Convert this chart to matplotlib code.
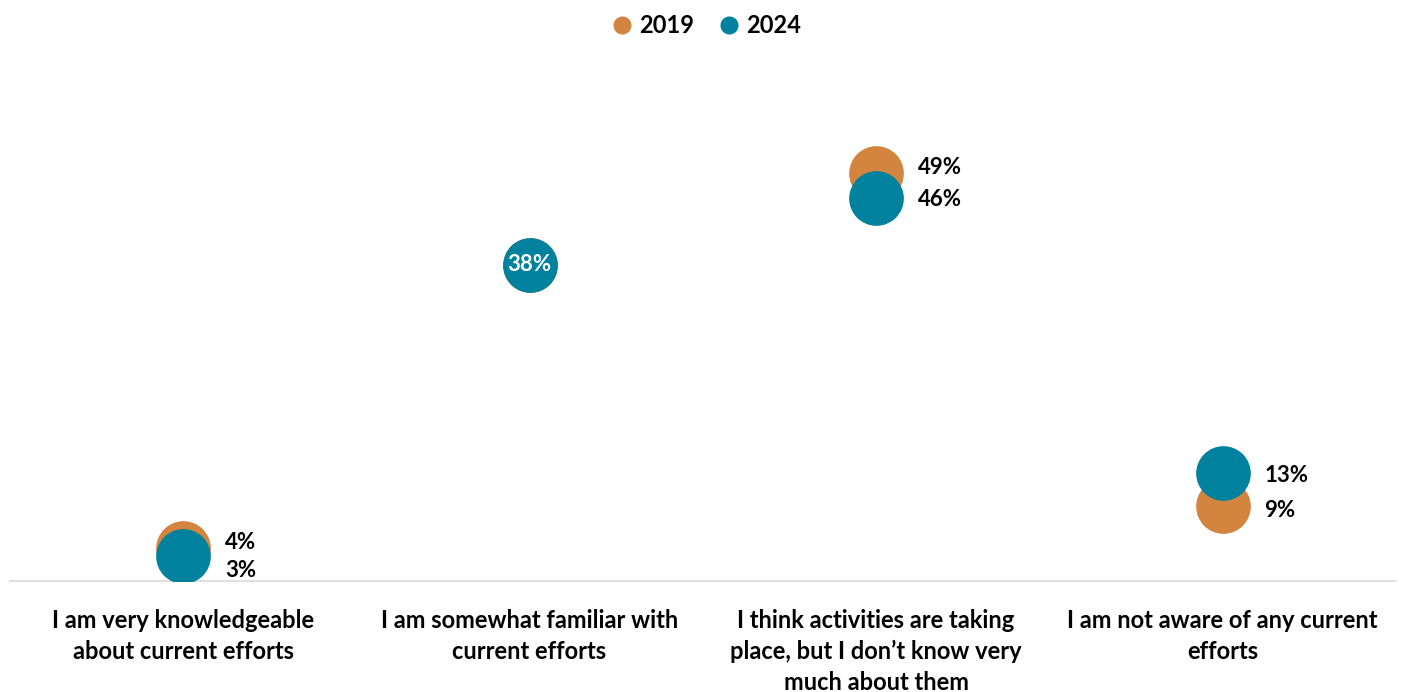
import matplotlib
matplotlib.use("Agg")
import matplotlib.pyplot as plt

categories = [
    "I am very knowledgeable\nabout current efforts",
    "I am somewhat familiar with\ncurrent efforts",
    "I think activities are taking\nplace, but I don\u2019t know very\nmuch about them",
    "I am not aware of any current\nefforts",
]
years = ["2019", "2024"]
pct_2019 = [4, 38, 49, 9]
pct_2024 = [3, 38, 46, 13]

orange = "#D3843F"
teal = "#00819D"

plt.rcParams["font.family"] = ["Lato", "DejaVu Sans"]

fig = plt.figure(figsize=(14.07, 6.92), dpi=100)
ax = fig.add_axes([0.007, 0.16, 0.985, 0.722])

x = list(range(len(categories)))
ax.scatter(x, pct_2019, s=1550, color=orange, zorder=2, label=years[0], linewidths=0)
ax.scatter(x, pct_2024, s=1550, color=teal, zorder=3, label=years[1], linewidths=0)

# value labels to the right of the dots; nudge the close pairs apart
nudge_2019 = [4, 0, 4, -3]
nudge_2024 = [-10, 0, -1, -2]
for i in x:
    if pct_2019[i] == pct_2024[i]:
        ax.text(i, pct_2024[i], f"{pct_2024[i]}%", color="white", fontsize=16,
                fontweight="bold", ha="center", va="center", zorder=4)
        continue
    ax.annotate(f"{pct_2019[i]}%", (i, pct_2019[i]), xytext=(30, nudge_2019[i]),
                textcoords="offset points", fontsize=16, fontweight="bold",
                ha="left", va="center", color="black")
    ax.annotate(f"{pct_2024[i]}%", (i, pct_2024[i]), xytext=(30, nudge_2024[i]),
                textcoords="offset points", fontsize=16, fontweight="bold",
                ha="left", va="center", color="black")

ax.set_xlim(-0.5, 3.5)
ax.set_ylim(0, 60)
ax.set_xticks(x)
ax.set_xticklabels(categories, fontsize=17, fontweight="bold", linespacing=1.4)
ax.tick_params(axis="x", length=0, pad=20)
ax.set_yticks([])
for side in ["left", "right", "top"]:
    ax.spines[side].set_visible(False)
ax.spines["bottom"].set_color("#D9D9D9")
ax.spines["bottom"].set_linewidth(1.2)
ax.patch.set_alpha(0)

handles = [
    plt.Line2D([], [], marker="o", linestyle="", markersize=12, color=orange),
    plt.Line2D([], [], marker="o", linestyle="", markersize=12, color=teal),
]
leg = fig.legend(handles, years, loc="upper center", bbox_to_anchor=(0.502, 1.01), ncol=2,
                 frameon=False, handlelength=0.9, handletextpad=0.3, columnspacing=1.0,
                 prop={"size": 17, "weight": "bold"})

fig.savefig("out.png", dpi=100, facecolor="white")
